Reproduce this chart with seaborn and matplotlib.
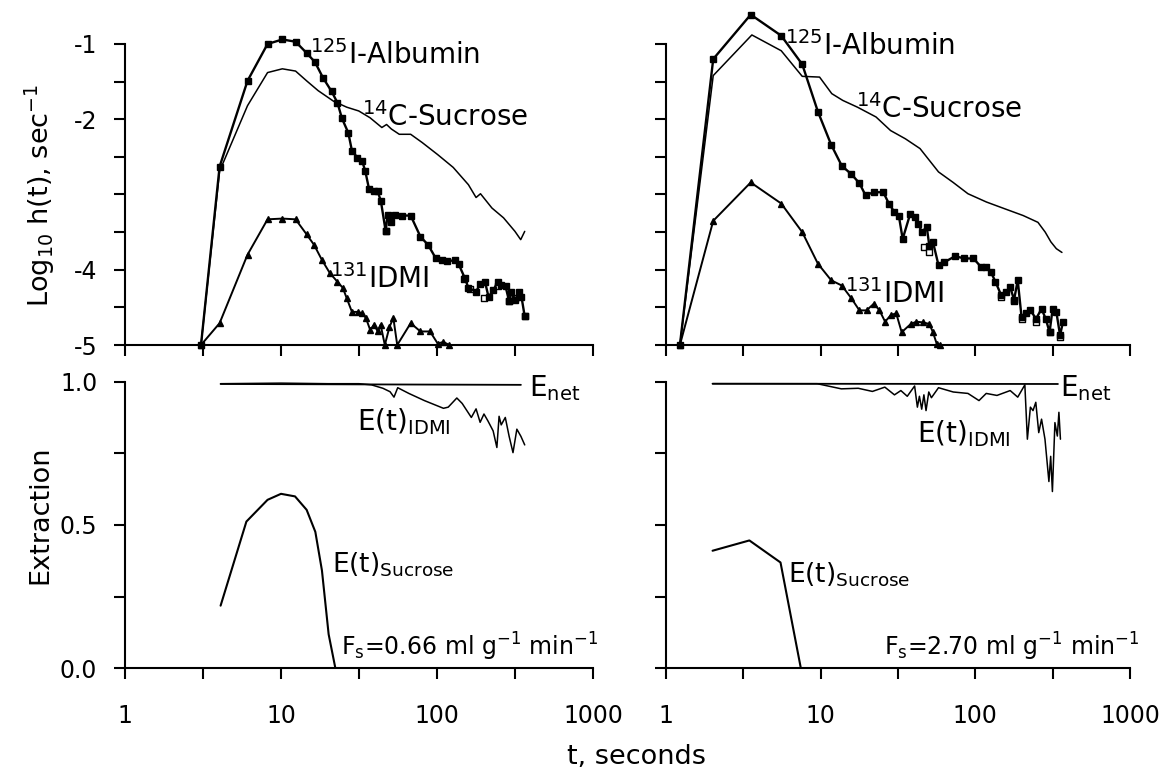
import matplotlib
matplotlib.use("Agg")
import matplotlib.pyplot as plt
import seaborn as sns
import pandas as pd

# ---- data (t in seconds, log10 h(t) / extraction) ----
# left column, Fs = 0.66
alb_l_t = [3.07, 4.04, 6.1, 8.2, 10.2, 12.4, 14.6, 16.5, 18.6, 21.1, 23.0, 24.6, 27.0, 28.5, 30.9,
           33.2, 34.7, 36.7, 39.5, 41.7, 43.7, 46.9, 48.2, 51.0, 54.0, 60.0, 67.8, 78.3, 87.7, 98.4,
           107, 116.6, 130.7, 138, 150.7, 159, 178, 189, 203, 214, 230, 245, 258, 275, 290, 300,
           318, 335, 348, 365]
alb_l_y = [-5.0, -2.63, -1.49, -1.0, -0.94, -0.97, -1.12, -1.24, -1.45, -1.63, -1.78, -1.99, -2.18,
           -2.42, -2.51, -2.56, -2.69, -2.93, -2.95, -2.96, -3.09, -3.49, -3.27, -3.36, -3.27, -3.28,
           -3.28, -3.56, -3.67, -3.85, -3.87, -3.89, -3.87, -3.93, -4.11, -4.24, -4.29, -4.19, -4.16,
           -4.36, -4.27, -4.16, -4.2, -4.22, -4.42, -4.3, -4.4, -4.29, -4.36, -4.62]
alb_l_open_t = [46.9, 150, 163, 200, 245, 290, 315, 365]
alb_l_open_y = [-3.49, -4.12, -4.26, -4.38, -4.22, -4.42, -4.38, -4.62]

suc_l_t = [3.07, 4.04, 6.1, 8.2, 10.2, 12.4, 14.6, 17.3, 21.7, 26.4, 31.5, 37.2, 44.3, 47.5, 51,
           57.3, 67.8, 80.4, 101, 127, 159, 178, 190, 225, 267, 316, 344, 365]
suc_l_y = [-5.0, -2.69, -1.82, -1.38, -1.33, -1.36, -1.49, -1.62, -1.76, -1.84, -1.89, -1.98, -2.11,
           -2.07, -2.13, -2.2, -2.2, -2.31, -2.47, -2.64, -2.87, -3.04, -2.99, -3.18, -3.31, -3.49,
           -3.6, -3.49]

idmi_l_t = [3.07, 4.04, 6.1, 8.2, 10.2, 12.4, 14.6, 16.3, 18.3, 20.5, 23, 24.9, 26.4, 28.5, 31,
            33.2, 35, 37.3, 39.5, 41.7, 43.5, 46.3, 49.6, 52.5, 55.6, 67.8, 78.3, 90.2, 101, 110, 120]
idmi_l_y = [-5.0, -4.71, -3.8, -3.33, -3.32, -3.33, -3.53, -3.67, -3.87, -4.04, -4.16, -4.24, -4.38,
            -4.56, -4.56, -4.58, -4.64, -4.8, -4.73, -4.82, -4.73, -5.0, -4.76, -4.64, -5.0, -4.71,
            -4.82, -4.82, -4.98, -4.96, -5.0]

enet_l_t = [4.1, 345]
enet_l_y = [0.993, 0.99]
eidmi_l_t = [4.1, 10, 20, 31.6, 38, 45, 50, 53, 56, 66, 83, 110, 118, 134, 145, 166, 178, 189, 200,
             212, 229, 242, 250, 258, 274, 290, 307, 325, 345, 365]
eidmi_l_y = [0.994, 0.996, 0.994, 0.994, 0.99, 0.978, 0.966, 0.947, 0.98, 0.96, 0.935, 0.908, 0.912,
             0.944, 0.925, 0.876, 0.906, 0.859, 0.888, 0.864, 0.829, 0.771, 0.88, 0.85, 0.876, 0.81,
             0.753, 0.835, 0.81, 0.78]
esuc_l_t = [4.1, 6.0, 8.2, 10, 12.3, 14.6, 16.6, 18.3, 20.2, 22.3]
esuc_l_y = [0.218, 0.512, 0.588, 0.609, 0.6, 0.553, 0.476, 0.341, 0.118, 0.0]

# right column, Fs = 2.70
alb_r_t = [1.23, 2.02, 3.53, 5.56, 7.6, 9.6, 11.7, 13.7, 15.8, 17.8, 19.5, 22.0, 25.4, 27.6, 29.9,
           32.0, 33.9, 37.9, 40.5, 42.7, 45.2, 48.5, 50.4, 53.2, 57.8, 63, 74, 84.9, 97.3, 108.6,
           117.6, 126, 135, 147, 158, 168, 178, 188, 199, 212, 227, 247, 268, 285, 302, 316, 334,
           353, 369]
alb_r_y = [-5.0, -1.2, -0.61, -0.89, -1.27, -1.9, -2.34, -2.62, -2.73, -2.85, -3.01, -2.97, -2.97,
           -3.12, -3.23, -3.28, -3.59, -3.26, -3.3, -3.39, -3.5, -3.43, -3.68, -3.63, -3.94, -3.9,
           -3.82, -3.85, -3.85, -3.96, -3.96, -4.03, -4.16, -4.34, -4.3, -4.23, -4.4, -4.14, -4.63,
           -4.58, -4.54, -4.65, -4.52, -4.65, -4.83, -4.52, -4.56, -4.87, -4.69]
alb_r_open_t = [46.4, 50.4, 147, 178, 199, 247, 302, 353]
alb_r_open_y = [-3.70, -3.77, -4.36, -4.41, -4.65, -4.69, -4.83, -4.9]

suc_r_t = [1.23, 2.02, 3.59, 5.56, 7.6, 9.84, 11.8, 13.9, 17.3, 22.8, 28.3, 35.3, 43.9, 57.8, 71.9,
           89.6, 118, 155, 204, 254, 283, 308, 334, 363]
suc_r_y = [-5.0, -1.42, -0.88, -1.09, -1.43, -1.44, -1.66, -1.75, -1.84, -1.97, -2.15, -2.26, -2.39,
           -2.7, -2.84, -2.99, -3.1, -3.19, -3.28, -3.37, -3.5, -3.63, -3.72, -3.77]

idmi_r_t = [1.23, 2.02, 3.53, 5.56, 7.6, 9.6, 11.7, 13.7, 15.8, 17.8, 19.8, 22.1, 24.0, 26.1, 28.5,
            30.8, 33.4, 38.3, 41.6, 46, 50.4, 53.2, 56.2, 59.4]
idmi_r_y = [-5.0, -3.35, -2.84, -3.12, -3.5, -3.92, -4.14, -4.21, -4.38, -4.54, -4.54, -4.45, -4.54,
            -4.69, -4.6, -4.58, -4.83, -4.72, -4.69, -4.7, -4.72, -4.83, -4.98, -5.0]

enet_r_t = [2.0, 342]
enet_r_y = [0.994, 0.993]
eidmi_r_t = [2.0, 9.5, 13.6, 17.5, 21.6, 26, 30, 33, 36.3, 40.5, 42.2, 43.5, 45, 46.5, 48, 50, 52,
             57.8, 72, 89.6, 105.6, 117.6, 138, 168, 188, 209, 217, 227, 236, 246, 257, 268, 282,
             299, 307, 315, 327, 339, 347, 355]
eidmi_r_y = [0.994, 0.994, 0.976, 0.978, 0.967, 0.982, 0.955, 0.97, 0.95, 0.986, 0.912, 0.95, 0.905,
             0.955, 0.9, 0.965, 0.945, 0.98, 0.965, 0.96, 0.935, 0.96, 0.953, 0.97, 0.947, 0.99, 0.8,
             0.912, 0.9, 0.929, 0.823, 0.87, 0.8, 0.652, 0.74, 0.617, 0.858, 0.811, 0.894, 0.8]
esuc_r_t = [2.0, 3.46, 5.5, 7.44]
esuc_r_y = [0.41, 0.446, 0.369, 0.0]

x_ticks = [1, 3.162, 10, 31.62, 100, 316.2, 1000]
x_ticklabels = ["1", "", "10", "", "100", "", "1000"]
top_yticks = [-5, -4.5, -4, -3.5, -3, -2.5, -2, -1.5, -1]
top_yticklabels = ["-5", "", "-4", "", "", "", "-2", "", "-1"]
bot_yticks = [0, 0.25, 0.5, 0.75, 1.0]
bot_yticklabels = ["0.0", "", "0.5", "", "1.0"]

sns.set_style("ticks")
plt.rcParams["font.family"] = ["DejaVu Sans"]
plt.rcParams["mathtext.default"] = "regular"
plt.rcParams["axes.linewidth"] = 1.5
for k in ["text.color", "axes.labelcolor", "xtick.color", "ytick.color", "axes.edgecolor"]:
    plt.rcParams[k] = "black"

FS = 17      # tick labels
FA = 20      # curve annotations
FL = 19.5    # axis titles
fig = plt.figure(figsize=(11.75, 7.72), dpi=100)
W, H = 1175, 772
ax_tl = fig.add_axes([125 / W, 0.5531, 468 / W, 0.4338])
ax_tr = fig.add_axes([666 / W, 0.5531, 464 / W, 0.4338])
ax_bl = fig.add_axes([125 / W, 0.1347, 468 / W, 0.3705])
ax_br = fig.add_axes([666 / W, 0.1347, 464 / W, 0.3705])


def line(ax, t, y, lw, marker=None, ms=4):
    df = pd.DataFrame({"t": t, "v": y})
    sns.lineplot(data=df, x="t", y="v", ax=ax, color="black", linewidth=lw, marker=marker,
                 markersize=ms, markerfacecolor="black", markeredgecolor="black",
                 markeredgewidth=1.0, sort=False, estimator=None, clip_on=False)


def open_squares(ax, t, y):
    df = pd.DataFrame({"t": t, "v": y})
    sns.scatterplot(data=df, x="t", y="v", ax=ax, marker="s", s=18, facecolor="white",
                    edgecolor="black", linewidth=1.0, zorder=1, clip_on=False)


def style(ax, top, labels):
    ax.set_xscale("log")
    ax.set_xlim(1, 1000)
    ax.set_xticks(x_ticks)
    ax.minorticks_off()
    sns.despine(ax=ax)
    ax.tick_params(direction="out", length=8, width=1.5, labelsize=FS, colors="black")
    ax.tick_params(axis="x", pad=18)
    ax.tick_params(axis="y", pad=12)
    if top:
        ax.set_ylim(-5, -0.55)
        ax.spines["left"].set_bounds(-5, -1)
        ax.set_yticks(top_yticks)
        ax.set_yticklabels(top_yticklabels if labels else [""] * len(top_yticks))
        ax.set_xticklabels([""] * len(x_ticks))
    else:
        ax.set_ylim(0, 1.0)
        ax.set_yticks(bot_yticks)
        ax.set_yticklabels(bot_yticklabels if labels else [""] * len(bot_yticks))
        ax.set_xticklabels(x_ticklabels)
    ax.set_xlabel("")
    ax.set_ylabel("")


# top left
line(ax_tl, suc_l_t, suc_l_y, 1.1)
line(ax_tl, idmi_l_t, idmi_l_y, 1.4, marker="^", ms=4)
open_squares(ax_tl, alb_l_open_t, alb_l_open_y)
line(ax_tl, alb_l_t, alb_l_y, 1.7, marker="s", ms=4)
ax_tl.text(15.4, -1.27, r"$^{125}$I-Albumin", fontsize=FA)
ax_tl.text(33, -2.09, r"$^{14}$C-Sucrose", fontsize=FA)
ax_tl.text(20.5, -4.24, r"$^{131}$IDMI", fontsize=FA)

# top right
line(ax_tr, suc_r_t, suc_r_y, 1.1)
line(ax_tr, idmi_r_t, idmi_r_y, 1.4, marker="^", ms=4)
open_squares(ax_tr, alb_r_open_t, alb_r_open_y)
line(ax_tr, alb_r_t, alb_r_y, 1.7, marker="s", ms=4)
ax_tr.text(5.9, -1.15, r"$^{125}$I-Albumin", fontsize=FA)
ax_tr.text(16.8, -1.99, r"$^{14}$C-Sucrose", fontsize=FA)
ax_tr.text(14.3, -4.44, r"$^{131}$IDMI", fontsize=FA)

# bottom left
line(ax_bl, enet_l_t, enet_l_y, 1.3)
line(ax_bl, eidmi_l_t, eidmi_l_y, 1.1)
line(ax_bl, esuc_l_t, esuc_l_y, 1.5)
ax_bl.text(386, 0.95, r"E$_{net}$", fontsize=FA)
ax_bl.text(30.6, 0.83, r"E(t)$_{IDMI}$", fontsize=FA)
ax_bl.text(21.3, 0.335, r"E(t)$_{Sucrose}$", fontsize=FA - 1)
ax_bl.text(24.3, 0.045, r"F$_s$=0.66 ml g$^{-1}$ min$^{-1}$", fontsize=FS)

# bottom right
line(ax_br, enet_r_t, enet_r_y, 1.3)
line(ax_br, eidmi_r_t, eidmi_r_y, 1.1)
line(ax_br, esuc_r_t, esuc_r_y, 1.5)
ax_br.text(352, 0.95, r"E$_{net}$", fontsize=FA)
ax_br.text(41.7, 0.79, r"E(t)$_{IDMI}$", fontsize=FA)
ax_br.text(6.15, 0.30, r"E(t)$_{Sucrose}$", fontsize=FA - 1)
ax_br.text(25.5, 0.045, r"F$_s$=2.70 ml g$^{-1}$ min$^{-1}$", fontsize=FS)

style(ax_tl, True, True)
style(ax_tr, True, False)
style(ax_bl, False, True)
style(ax_br, False, False)

fig.text(40 / W, 1 - 195 / H, r"Log$_{10}$ h(t), sec$^{-1}$", rotation=90, fontsize=FL,
         ha="center", va="center")
fig.text(40 / W, 1 - 515 / H, "Extraction", rotation=90, fontsize=FL, ha="center", va="center")
fig.text(636 / W, 1 - 757 / H, "t, seconds", fontsize=FL, ha="center", va="center")

fig.savefig("out.png", dpi=100)
